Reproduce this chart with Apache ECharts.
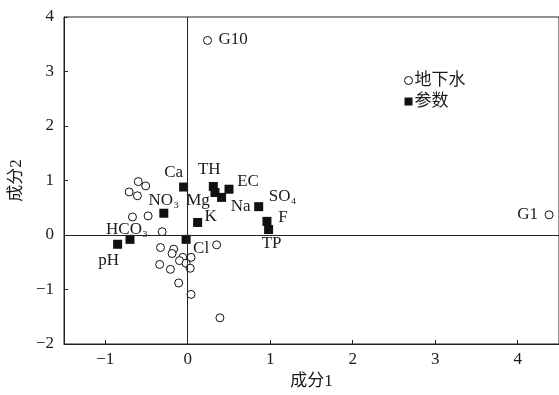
<!DOCTYPE html>
<html>
<head>
<meta charset="utf-8">
<script src="https://cdn.jsdelivr.net/npm/echarts@6/dist/echarts.min.js"></script>
<style>
  html, body { margin: 0; padding: 0; background: #fff; }
  #chart { width: 559px; height: 395px; }
</style>
</head>
<body>
<div id="chart"></div>
<script>
// 地下水样点 (成分1, 成分2)
const wellNames = ['G10', 'G1', '', '', '', '', '', '', '', '', '', '', '', '', '', '', '', '', '', '', '', '', ''];
const wellX = [0.24, 4.38, -0.60, -0.51, -0.71, -0.61, -0.48, -0.67, -0.31, -0.33, -0.17, -0.19, -0.06, 0.04, -0.10, -0.02, 0.03, -0.34, -0.21, -0.11, 0.04, 0.39, 0.35];
const wellY = [3.57, 0.37, 0.98, 0.90, 0.79, 0.72, 0.35, 0.33, 0.06, -0.23, -0.26, -0.34, -0.41, -0.41, -0.47, -0.52, -0.61, -0.54, -0.63, -0.88, -1.09, -1.52, -0.18];

// 参数载荷
const paramNames = ['Ca', 'TH', 'Mg', 'Na', 'EC', 'SO₄', 'F', 'TP', 'K', 'NO₃', 'Cl', 'HCO₃', 'pH'];
const paramX = [-0.05, 0.31, 0.33, 0.41, 0.50, 0.86, 0.96, 0.98, 0.12, -0.29, -0.02, -0.70, -0.85];
const paramY = [0.88, 0.89, 0.78, 0.69, 0.84, 0.52, 0.25, 0.10, 0.23, 0.40, -0.08, -0.08, -0.17];

const xTicks = [-1, 0, 1, 2, 3, 4];

// 标签偏移 (像素, 相对于标记中心)
const wellLabelOffset = { G10: [26, 0], G1: [-21, 0] };
const paramLabelOffset = [[-10, -15], [-4, -17], [-17, 8], [19, 9], [19, -8], [24, -10], [16, -4], [3, 14], [13, -6], [0, -13], [15, 9], [-3, -10], [-9, 16]];

const FONT = "'Liberation Serif', 'Noto Sans CJK SC', serif";
const FS = 17;
const INK = '#1a1a1a';
const minus = v => String(v).replace('-', '−');

function makeLabel(text, off, size) {
    const h = size / 2;
    return {
        show: true,
        position: [h + off[0], h + off[1]],
        align: 'center',
        verticalAlign: 'middle',
        fontSize: FS,
        color: INK,
        opacity: 1,
        textBorderWidth: 0,
        textBorderColor: 'transparent',
        fontFamily: FONT,
        formatter: text
    };
}

const wellData = wellX.map((x, i) => {
    const d = { value: [x, wellY[i]], name: wellNames[i] };
    if (wellNames[i]) d.label = makeLabel(wellNames[i], wellLabelOffset[wellNames[i]], 8);
    return d;
});

const paramData = paramX.map((x, i) => ({
    value: [x, paramY[i]],
    name: paramNames[i],
    label: makeLabel(paramNames[i], paramLabelOffset[i], 9)
}));

const chart = echarts.init(document.getElementById('chart'));
chart.setOption({
    animation: false,
    textStyle: { fontFamily: FONT, color: INK },
    grid: { left: 63, top: 17, right: -1, bottom: 51, show: true, borderColor: '#222', borderWidth: 1 },
    legend: {
        orient: 'vertical',
        left: 399,
        top: 67,
        itemWidth: 8,
        itemHeight: 8,
        itemGap: 4,
        itemStyle: { borderWidth: 1 },
        textStyle: { fontSize: FS, color: INK, fontFamily: FONT, padding: [0, 0, 0, -3] },
        data: ['地下水', '参数']
    },
    xAxis: {
        type: 'value',
        min: -1.5,
        max: 4.5,
        name: '成分1',
        nameLocation: 'middle',
        nameGap: 26,
        nameTextStyle: { fontSize: FS, color: INK, fontFamily: FONT },
        axisLine: { onZero: false, lineStyle: { color: '#222' } },
        axisTick: { inside: true, length: 4, customValues: xTicks, lineStyle: { color: '#222' } },
        axisLabel: { customValues: xTicks, fontSize: FS, color: INK, margin: 7, formatter: minus },
        splitLine: { show: false }
    },
    yAxis: {
        type: 'value',
        min: -2,
        max: 4,
        interval: 1,
        name: '成分2',
        nameLocation: 'middle',
        nameGap: 38,
        nameTextStyle: { fontSize: FS, color: INK, fontFamily: FONT },
        axisLine: { onZero: false, lineStyle: { color: '#222' } },
        axisTick: { inside: true, length: 4, lineStyle: { color: '#222' } },
        axisLabel: { fontSize: FS, color: INK, margin: 10, formatter: minus },
        splitLine: { show: false }
    },
    series: [
        {
            name: '地下水',
            type: 'scatter',
            symbol: 'circle',
            symbolSize: 8,
            itemStyle: { color: '#fff', borderColor: '#111', borderWidth: 1, opacity: 1 },
            label: { color: INK },
            data: wellData,
            markLine: {
                silent: true,
                symbol: 'none',
                animation: false,
                label: { show: false },
                lineStyle: { color: '#222', type: 'solid', width: 1 },
                data: [{ xAxis: 0 }, { yAxis: 0 }]
            },
            z: 3
        },
        {
            name: '参数',
            type: 'scatter',
            symbol: 'rect',
            symbolSize: 9,
            itemStyle: { color: '#111', opacity: 1 },
            label: { color: INK },
            data: paramData,
            z: 4
        }
    ]
});
window.addEventListener('resize', () => chart.resize());
</script>
</body>
</html>
